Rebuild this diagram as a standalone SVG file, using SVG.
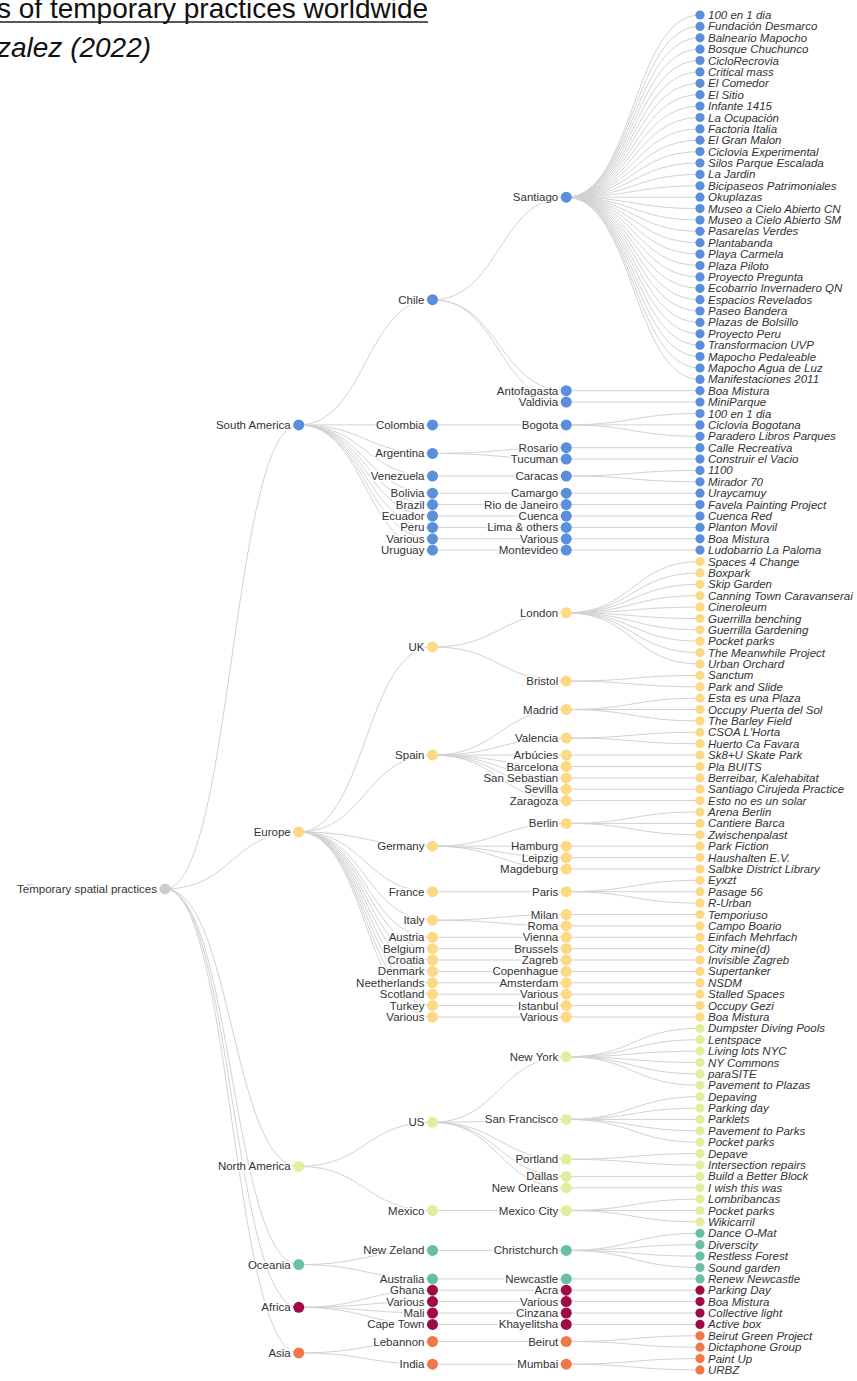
<svg xmlns="http://www.w3.org/2000/svg" width="857" height="1381" viewBox="0 0 857 1381">
<style>
.links path{fill:none;stroke:#d2d2d2;stroke-width:1}
.nd text{font-family:"Liberation Sans",Arial,Helvetica,sans-serif;font-size:11.5px;fill:#333;stroke:#fff;stroke-width:3;stroke-linejoin:round;paint-order:stroke}
.nd .e{text-anchor:end}
.lf text{font-style:italic}
.nd circle{r:5.5px}
.lf circle{r:4.6px}
.sa circle{fill:#5b8edb}
.eu circle{fill:#fdd985}
.na circle{fill:#e2ee9e}
.oc circle{fill:#69bfa6}
.af circle{fill:#9e0b45}
.as circle{fill:#f1774b}
.rt circle{fill:#cccccc}
.tt{font-family:"Liberation Sans",Arial,Helvetica,sans-serif;font-size:28px;fill:#111}
</style>
<rect width="857" height="1381" fill="#fff"/>
<g id="title">
<text class="tt" x="-3" y="18">s of temporary practices worldwide</text>
<line x1="0" y1="22" x2="428" y2="22" stroke="#222" stroke-width="1.5"/>
<text class="tt" x="-3" y="57" font-style="italic">zalez (2022)</text>
</g>
<g id="links" class="links">
<path d="M165,888.9C231.9,888.9 231.9,424.9 298.75,424.9"/>
<path d="M165,888.9C231.9,888.9 231.9,832 298.75,832"/>
<path d="M165,888.9C231.9,888.9 231.9,1166.4 298.75,1166.4"/>
<path d="M165,888.9C231.9,888.9 231.9,1264.6 298.75,1264.6"/>
<path d="M165,888.9C231.9,888.9 231.9,1307.3 298.75,1307.3"/>
<path d="M165,888.9C231.9,888.9 231.9,1352.9 298.75,1352.9"/>
<path d="M298.75,424.9C365.6,424.9 365.6,299.7 432.5,299.7"/>
<path d="M298.75,424.9C365.6,424.9 365.6,424.9 432.5,424.9"/>
<path d="M298.75,424.9C365.6,424.9 365.6,453.4 432.5,453.4"/>
<path d="M298.75,424.9C365.6,424.9 365.6,476.1 432.5,476.1"/>
<path d="M298.75,424.9C365.6,424.9 365.6,493.2 432.5,493.2"/>
<path d="M298.75,424.9C365.6,424.9 365.6,504.6 432.5,504.6"/>
<path d="M298.75,424.9C365.6,424.9 365.6,516 432.5,516"/>
<path d="M298.75,424.9C365.6,424.9 365.6,527.4 432.5,527.4"/>
<path d="M298.75,424.9C365.6,424.9 365.6,538.8 432.5,538.8"/>
<path d="M298.75,424.9C365.6,424.9 365.6,550.1 432.5,550.1"/>
<path d="M298.75,832C365.6,832 365.6,646.9 432.5,646.9"/>
<path d="M298.75,832C365.6,832 365.6,755.1 432.5,755.1"/>
<path d="M298.75,832C365.6,832 365.6,846.2 432.5,846.2"/>
<path d="M298.75,832C365.6,832 365.6,891.7 432.5,891.7"/>
<path d="M298.75,832C365.6,832 365.6,920.2 432.5,920.2"/>
<path d="M298.75,832C365.6,832 365.6,937.3 432.5,937.3"/>
<path d="M298.75,832C365.6,832 365.6,948.7 432.5,948.7"/>
<path d="M298.75,832C365.6,832 365.6,960 432.5,960"/>
<path d="M298.75,832C365.6,832 365.6,971.4 432.5,971.4"/>
<path d="M298.75,832C365.6,832 365.6,982.8 432.5,982.8"/>
<path d="M298.75,832C365.6,832 365.6,994.2 432.5,994.2"/>
<path d="M298.75,832C365.6,832 365.6,1005.6 432.5,1005.6"/>
<path d="M298.75,832C365.6,832 365.6,1017 432.5,1017"/>
<path d="M298.75,1166.4C365.6,1166.4 365.6,1122.3 432.5,1122.3"/>
<path d="M298.75,1166.4C365.6,1166.4 365.6,1210.5 432.5,1210.5"/>
<path d="M298.75,1264.6C365.6,1264.6 365.6,1250.4 432.5,1250.4"/>
<path d="M298.75,1264.6C365.6,1264.6 365.6,1278.9 432.5,1278.9"/>
<path d="M298.75,1307.3C365.6,1307.3 365.6,1290.2 432.5,1290.2"/>
<path d="M298.75,1307.3C365.6,1307.3 365.6,1301.6 432.5,1301.6"/>
<path d="M298.75,1307.3C365.6,1307.3 365.6,1313 432.5,1313"/>
<path d="M298.75,1307.3C365.6,1307.3 365.6,1324.4 432.5,1324.4"/>
<path d="M298.75,1352.9C365.6,1352.9 365.6,1341.5 432.5,1341.5"/>
<path d="M298.75,1352.9C365.6,1352.9 365.6,1364.2 432.5,1364.2"/>
<path d="M432.5,299.7C499.4,299.7 499.4,197.2 566.25,197.2"/>
<path d="M432.5,299.7C499.4,299.7 499.4,390.7 566.25,390.7"/>
<path d="M432.5,299.7C499.4,299.7 499.4,402.1 566.25,402.1"/>
<path d="M432.5,424.9H566.25"/>
<path d="M432.5,453.4C499.4,453.4 499.4,447.7 566.25,447.7"/>
<path d="M432.5,453.4C499.4,453.4 499.4,459.1 566.25,459.1"/>
<path d="M432.5,476.1H566.25"/>
<path d="M432.5,493.2H566.25"/>
<path d="M432.5,504.6H566.25"/>
<path d="M432.5,516H566.25"/>
<path d="M432.5,527.4H566.25"/>
<path d="M432.5,538.8H566.25"/>
<path d="M432.5,550.1H566.25"/>
<path d="M432.5,646.9C499.4,646.9 499.4,612.8 566.25,612.8"/>
<path d="M432.5,646.9C499.4,646.9 499.4,681.1 566.25,681.1"/>
<path d="M432.5,755.1C499.4,755.1 499.4,709.5 566.25,709.5"/>
<path d="M432.5,755.1C499.4,755.1 499.4,738 566.25,738"/>
<path d="M432.5,755.1H566.25"/>
<path d="M432.5,755.1C499.4,755.1 499.4,766.5 566.25,766.5"/>
<path d="M432.5,755.1C499.4,755.1 499.4,777.9 566.25,777.9"/>
<path d="M432.5,755.1C499.4,755.1 499.4,789.2 566.25,789.2"/>
<path d="M432.5,755.1C499.4,755.1 499.4,800.6 566.25,800.6"/>
<path d="M432.5,846.2C499.4,846.2 499.4,823.4 566.25,823.4"/>
<path d="M432.5,846.2H566.25"/>
<path d="M432.5,846.2C499.4,846.2 499.4,857.6 566.25,857.6"/>
<path d="M432.5,846.2C499.4,846.2 499.4,869 566.25,869"/>
<path d="M432.5,891.7H566.25"/>
<path d="M432.5,920.2C499.4,920.2 499.4,914.5 566.25,914.5"/>
<path d="M432.5,920.2C499.4,920.2 499.4,925.9 566.25,925.9"/>
<path d="M432.5,937.3H566.25"/>
<path d="M432.5,948.7H566.25"/>
<path d="M432.5,960H566.25"/>
<path d="M432.5,971.4H566.25"/>
<path d="M432.5,982.8H566.25"/>
<path d="M432.5,994.2H566.25"/>
<path d="M432.5,1005.6H566.25"/>
<path d="M432.5,1017H566.25"/>
<path d="M432.5,1122.3C499.4,1122.3 499.4,1056.8 566.25,1056.8"/>
<path d="M432.5,1122.3C499.4,1122.3 499.4,1119.4 566.25,1119.4"/>
<path d="M432.5,1122.3C499.4,1122.3 499.4,1159.3 566.25,1159.3"/>
<path d="M432.5,1122.3C499.4,1122.3 499.4,1176.4 566.25,1176.4"/>
<path d="M432.5,1122.3C499.4,1122.3 499.4,1187.8 566.25,1187.8"/>
<path d="M432.5,1210.5H566.25"/>
<path d="M432.5,1250.4H566.25"/>
<path d="M432.5,1278.9H566.25"/>
<path d="M432.5,1290.2H566.25"/>
<path d="M432.5,1301.6H566.25"/>
<path d="M432.5,1313H566.25"/>
<path d="M432.5,1324.4H566.25"/>
<path d="M432.5,1341.5H566.25"/>
<path d="M432.5,1364.2H566.25"/>
<path d="M566.25,197.2C633.1,197.2 633.1,15 700,15"/>
<path d="M566.25,197.2C633.1,197.2 633.1,26.4 700,26.4"/>
<path d="M566.25,197.2C633.1,197.2 633.1,37.8 700,37.8"/>
<path d="M566.25,197.2C633.1,197.2 633.1,49.2 700,49.2"/>
<path d="M566.25,197.2C633.1,197.2 633.1,60.5 700,60.5"/>
<path d="M566.25,197.2C633.1,197.2 633.1,71.9 700,71.9"/>
<path d="M566.25,197.2C633.1,197.2 633.1,83.3 700,83.3"/>
<path d="M566.25,197.2C633.1,197.2 633.1,94.7 700,94.7"/>
<path d="M566.25,197.2C633.1,197.2 633.1,106.1 700,106.1"/>
<path d="M566.25,197.2C633.1,197.2 633.1,117.5 700,117.5"/>
<path d="M566.25,197.2C633.1,197.2 633.1,128.9 700,128.9"/>
<path d="M566.25,197.2C633.1,197.2 633.1,140.2 700,140.2"/>
<path d="M566.25,197.2C633.1,197.2 633.1,151.6 700,151.6"/>
<path d="M566.25,197.2C633.1,197.2 633.1,163 700,163"/>
<path d="M566.25,197.2C633.1,197.2 633.1,174.4 700,174.4"/>
<path d="M566.25,197.2C633.1,197.2 633.1,185.8 700,185.8"/>
<path d="M566.25,197.2H700"/>
<path d="M566.25,197.2C633.1,197.2 633.1,208.6 700,208.6"/>
<path d="M566.25,197.2C633.1,197.2 633.1,220 700,220"/>
<path d="M566.25,197.2C633.1,197.2 633.1,231.3 700,231.3"/>
<path d="M566.25,197.2C633.1,197.2 633.1,242.7 700,242.7"/>
<path d="M566.25,197.2C633.1,197.2 633.1,254.1 700,254.1"/>
<path d="M566.25,197.2C633.1,197.2 633.1,265.5 700,265.5"/>
<path d="M566.25,197.2C633.1,197.2 633.1,276.9 700,276.9"/>
<path d="M566.25,197.2C633.1,197.2 633.1,288.3 700,288.3"/>
<path d="M566.25,197.2C633.1,197.2 633.1,299.7 700,299.7"/>
<path d="M566.25,197.2C633.1,197.2 633.1,311 700,311"/>
<path d="M566.25,197.2C633.1,197.2 633.1,322.4 700,322.4"/>
<path d="M566.25,197.2C633.1,197.2 633.1,333.8 700,333.8"/>
<path d="M566.25,197.2C633.1,197.2 633.1,345.2 700,345.2"/>
<path d="M566.25,197.2C633.1,197.2 633.1,356.6 700,356.6"/>
<path d="M566.25,197.2C633.1,197.2 633.1,368 700,368"/>
<path d="M566.25,197.2C633.1,197.2 633.1,379.4 700,379.4"/>
<path d="M566.25,390.7H700"/>
<path d="M566.25,402.1H700"/>
<path d="M566.25,424.9C633.1,424.9 633.1,413.5 700,413.5"/>
<path d="M566.25,424.9H700"/>
<path d="M566.25,424.9C633.1,424.9 633.1,436.3 700,436.3"/>
<path d="M566.25,447.7H700"/>
<path d="M566.25,459.1H700"/>
<path d="M566.25,476.1C633.1,476.1 633.1,470.4 700,470.4"/>
<path d="M566.25,476.1C633.1,476.1 633.1,481.8 700,481.8"/>
<path d="M566.25,493.2H700"/>
<path d="M566.25,504.6H700"/>
<path d="M566.25,516H700"/>
<path d="M566.25,527.4H700"/>
<path d="M566.25,538.8H700"/>
<path d="M566.25,550.1H700"/>
<path d="M566.25,612.8C633.1,612.8 633.1,561.5 700,561.5"/>
<path d="M566.25,612.8C633.1,612.8 633.1,572.9 700,572.9"/>
<path d="M566.25,612.8C633.1,612.8 633.1,584.3 700,584.3"/>
<path d="M566.25,612.8C633.1,612.8 633.1,595.7 700,595.7"/>
<path d="M566.25,612.8C633.1,612.8 633.1,607.1 700,607.1"/>
<path d="M566.25,612.8C633.1,612.8 633.1,618.5 700,618.5"/>
<path d="M566.25,612.8C633.1,612.8 633.1,629.8 700,629.8"/>
<path d="M566.25,612.8C633.1,612.8 633.1,641.2 700,641.2"/>
<path d="M566.25,612.8C633.1,612.8 633.1,652.6 700,652.6"/>
<path d="M566.25,612.8C633.1,612.8 633.1,664 700,664"/>
<path d="M566.25,681.1C633.1,681.1 633.1,675.4 700,675.4"/>
<path d="M566.25,681.1C633.1,681.1 633.1,686.8 700,686.8"/>
<path d="M566.25,709.5C633.1,709.5 633.1,698.2 700,698.2"/>
<path d="M566.25,709.5H700"/>
<path d="M566.25,709.5C633.1,709.5 633.1,720.9 700,720.9"/>
<path d="M566.25,738C633.1,738 633.1,732.3 700,732.3"/>
<path d="M566.25,738C633.1,738 633.1,743.7 700,743.7"/>
<path d="M566.25,755.1H700"/>
<path d="M566.25,766.5H700"/>
<path d="M566.25,777.9H700"/>
<path d="M566.25,789.2H700"/>
<path d="M566.25,800.6H700"/>
<path d="M566.25,823.4C633.1,823.4 633.1,812 700,812"/>
<path d="M566.25,823.4H700"/>
<path d="M566.25,823.4C633.1,823.4 633.1,834.8 700,834.8"/>
<path d="M566.25,846.2H700"/>
<path d="M566.25,857.6H700"/>
<path d="M566.25,869H700"/>
<path d="M566.25,891.7C633.1,891.7 633.1,880.3 700,880.3"/>
<path d="M566.25,891.7H700"/>
<path d="M566.25,891.7C633.1,891.7 633.1,903.1 700,903.1"/>
<path d="M566.25,914.5H700"/>
<path d="M566.25,925.9H700"/>
<path d="M566.25,937.3H700"/>
<path d="M566.25,948.7H700"/>
<path d="M566.25,960H700"/>
<path d="M566.25,971.4H700"/>
<path d="M566.25,982.8H700"/>
<path d="M566.25,994.2H700"/>
<path d="M566.25,1005.6H700"/>
<path d="M566.25,1017H700"/>
<path d="M566.25,1056.8C633.1,1056.8 633.1,1028.4 700,1028.4"/>
<path d="M566.25,1056.8C633.1,1056.8 633.1,1039.7 700,1039.7"/>
<path d="M566.25,1056.8C633.1,1056.8 633.1,1051.1 700,1051.1"/>
<path d="M566.25,1056.8C633.1,1056.8 633.1,1062.5 700,1062.5"/>
<path d="M566.25,1056.8C633.1,1056.8 633.1,1073.9 700,1073.9"/>
<path d="M566.25,1056.8C633.1,1056.8 633.1,1085.3 700,1085.3"/>
<path d="M566.25,1119.4C633.1,1119.4 633.1,1096.7 700,1096.7"/>
<path d="M566.25,1119.4C633.1,1119.4 633.1,1108.1 700,1108.1"/>
<path d="M566.25,1119.4H700"/>
<path d="M566.25,1119.4C633.1,1119.4 633.1,1130.8 700,1130.8"/>
<path d="M566.25,1119.4C633.1,1119.4 633.1,1142.2 700,1142.2"/>
<path d="M566.25,1159.3C633.1,1159.3 633.1,1153.6 700,1153.6"/>
<path d="M566.25,1159.3C633.1,1159.3 633.1,1165 700,1165"/>
<path d="M566.25,1176.4H700"/>
<path d="M566.25,1187.8H700"/>
<path d="M566.25,1210.5C633.1,1210.5 633.1,1199.1 700,1199.1"/>
<path d="M566.25,1210.5H700"/>
<path d="M566.25,1210.5C633.1,1210.5 633.1,1221.9 700,1221.9"/>
<path d="M566.25,1250.4C633.1,1250.4 633.1,1233.3 700,1233.3"/>
<path d="M566.25,1250.4C633.1,1250.4 633.1,1244.7 700,1244.7"/>
<path d="M566.25,1250.4C633.1,1250.4 633.1,1256.1 700,1256.1"/>
<path d="M566.25,1250.4C633.1,1250.4 633.1,1267.5 700,1267.5"/>
<path d="M566.25,1278.9H700"/>
<path d="M566.25,1290.2H700"/>
<path d="M566.25,1301.6H700"/>
<path d="M566.25,1313H700"/>
<path d="M566.25,1324.4H700"/>
<path d="M566.25,1341.5C633.1,1341.5 633.1,1335.8 700,1335.8"/>
<path d="M566.25,1341.5C633.1,1341.5 633.1,1347.2 700,1347.2"/>
<path d="M566.25,1364.2C633.1,1364.2 633.1,1358.6 700,1358.6"/>
<path d="M566.25,1364.2C633.1,1364.2 633.1,1369.9 700,1369.9"/>
</g>
<g id="nodes">
<circle id="root-ghost" cx="30" cy="889" r="5.5" fill="#d9d9d9"/>
<g id="n-root" class="nd rt" transform="translate(165,888.9)"><circle/><text class="e" x="-8" dy=".35em">Temporary spatial practices</text></g>
<g id="n-south-america" class="nd sa" transform="translate(298.75,424.9)"><circle/><text class="e" x="-8" dy=".35em">South America</text></g>
<g id="n-europe" class="nd eu" transform="translate(298.75,832)"><circle/><text class="e" x="-8" dy=".35em">Europe</text></g>
<g id="n-north-america" class="nd na" transform="translate(298.75,1166.4)"><circle/><text class="e" x="-8" dy=".35em">North America</text></g>
<g id="n-oceania" class="nd oc" transform="translate(298.75,1264.6)"><circle/><text class="e" x="-8" dy=".35em">Oceania</text></g>
<g id="n-africa" class="nd af" transform="translate(298.75,1307.3)"><circle/><text class="e" x="-8" dy=".35em">Africa</text></g>
<g id="n-asia" class="nd as" transform="translate(298.75,1352.9)"><circle/><text class="e" x="-8" dy=".35em">Asia</text></g>
<g id="c-chile" class="nd sa" transform="translate(432.5,299.7)"><circle/><text class="e" x="-8" dy=".35em">Chile</text></g>
<g id="c-colombia" class="nd sa" transform="translate(432.5,424.9)"><circle/><text class="e" x="-8" dy=".35em">Colombia</text></g>
<g id="c-argentina" class="nd sa" transform="translate(432.5,453.4)"><circle/><text class="e" x="-8" dy=".35em">Argentina</text></g>
<g id="c-venezuela" class="nd sa" transform="translate(432.5,476.1)"><circle/><text class="e" x="-8" dy=".35em">Venezuela</text></g>
<g id="c-bolivia" class="nd sa" transform="translate(432.5,493.2)"><circle/><text class="e" x="-8" dy=".35em">Bolivia</text></g>
<g id="c-brazil" class="nd sa" transform="translate(432.5,504.6)"><circle/><text class="e" x="-8" dy=".35em">Brazil</text></g>
<g id="c-ecuador" class="nd sa" transform="translate(432.5,516)"><circle/><text class="e" x="-8" dy=".35em">Ecuador</text></g>
<g id="c-peru" class="nd sa" transform="translate(432.5,527.4)"><circle/><text class="e" x="-8" dy=".35em">Peru</text></g>
<g id="c-various-sa" class="nd sa" transform="translate(432.5,538.8)"><circle/><text class="e" x="-8" dy=".35em">Various</text></g>
<g id="c-uruguay" class="nd sa" transform="translate(432.5,550.1)"><circle/><text class="e" x="-8" dy=".35em">Uruguay</text></g>
<g id="c-uk" class="nd eu" transform="translate(432.5,646.9)"><circle/><text class="e" x="-8" dy=".35em">UK</text></g>
<g id="c-spain" class="nd eu" transform="translate(432.5,755.1)"><circle/><text class="e" x="-8" dy=".35em">Spain</text></g>
<g id="c-germany" class="nd eu" transform="translate(432.5,846.2)"><circle/><text class="e" x="-8" dy=".35em">Germany</text></g>
<g id="c-france" class="nd eu" transform="translate(432.5,891.7)"><circle/><text class="e" x="-8" dy=".35em">France</text></g>
<g id="c-italy" class="nd eu" transform="translate(432.5,920.2)"><circle/><text class="e" x="-8" dy=".35em">Italy</text></g>
<g id="c-austria" class="nd eu" transform="translate(432.5,937.3)"><circle/><text class="e" x="-8" dy=".35em">Austria</text></g>
<g id="c-belgium" class="nd eu" transform="translate(432.5,948.7)"><circle/><text class="e" x="-8" dy=".35em">Belgium</text></g>
<g id="c-croatia" class="nd eu" transform="translate(432.5,960)"><circle/><text class="e" x="-8" dy=".35em">Croatia</text></g>
<g id="c-denmark" class="nd eu" transform="translate(432.5,971.4)"><circle/><text class="e" x="-8" dy=".35em">Denmark</text></g>
<g id="c-neetherlands" class="nd eu" transform="translate(432.5,982.8)"><circle/><text class="e" x="-8" dy=".35em">Neetherlands</text></g>
<g id="c-scotland" class="nd eu" transform="translate(432.5,994.2)"><circle/><text class="e" x="-8" dy=".35em">Scotland</text></g>
<g id="c-turkey" class="nd eu" transform="translate(432.5,1005.6)"><circle/><text class="e" x="-8" dy=".35em">Turkey</text></g>
<g id="c-various-eu" class="nd eu" transform="translate(432.5,1017)"><circle/><text class="e" x="-8" dy=".35em">Various</text></g>
<g id="c-us" class="nd na" transform="translate(432.5,1122.3)"><circle/><text class="e" x="-8" dy=".35em">US</text></g>
<g id="c-mexico" class="nd na" transform="translate(432.5,1210.5)"><circle/><text class="e" x="-8" dy=".35em">Mexico</text></g>
<g id="c-new-zeland" class="nd oc" transform="translate(432.5,1250.4)"><circle/><text class="e" x="-8" dy=".35em">New Zeland</text></g>
<g id="c-australia" class="nd oc" transform="translate(432.5,1278.9)"><circle/><text class="e" x="-8" dy=".35em">Australia</text></g>
<g id="c-ghana" class="nd af" transform="translate(432.5,1290.2)"><circle/><text class="e" x="-8" dy=".35em">Ghana</text></g>
<g id="c-various-af" class="nd af" transform="translate(432.5,1301.6)"><circle/><text class="e" x="-8" dy=".35em">Various</text></g>
<g id="c-mali" class="nd af" transform="translate(432.5,1313)"><circle/><text class="e" x="-8" dy=".35em">Mali</text></g>
<g id="c-cape-town" class="nd af" transform="translate(432.5,1324.4)"><circle/><text class="e" x="-8" dy=".35em">Cape Town</text></g>
<g id="c-lebannon" class="nd as" transform="translate(432.5,1341.5)"><circle/><text class="e" x="-8" dy=".35em">Lebannon</text></g>
<g id="c-india" class="nd as" transform="translate(432.5,1364.2)"><circle/><text class="e" x="-8" dy=".35em">India</text></g>
<g id="t-santiago" class="nd sa" transform="translate(566.25,197.2)"><circle/><text class="e" x="-8" dy=".35em">Santiago</text></g>
<g id="t-antofagasta" class="nd sa" transform="translate(566.25,390.7)"><circle/><text class="e" x="-8" dy=".35em">Antofagasta</text></g>
<g id="t-valdivia" class="nd sa" transform="translate(566.25,402.1)"><circle/><text class="e" x="-8" dy=".35em">Valdivia</text></g>
<g id="t-bogota" class="nd sa" transform="translate(566.25,424.9)"><circle/><text class="e" x="-8" dy=".35em">Bogota</text></g>
<g id="t-rosario" class="nd sa" transform="translate(566.25,447.7)"><circle/><text class="e" x="-8" dy=".35em">Rosario</text></g>
<g id="t-tucuman" class="nd sa" transform="translate(566.25,459.1)"><circle/><text class="e" x="-8" dy=".35em">Tucuman</text></g>
<g id="t-caracas" class="nd sa" transform="translate(566.25,476.1)"><circle/><text class="e" x="-8" dy=".35em">Caracas</text></g>
<g id="t-camargo" class="nd sa" transform="translate(566.25,493.2)"><circle/><text class="e" x="-8" dy=".35em">Camargo</text></g>
<g id="t-rio" class="nd sa" transform="translate(566.25,504.6)"><circle/><text class="e" x="-8" dy=".35em">Rio de Janeiro</text></g>
<g id="t-cuenca" class="nd sa" transform="translate(566.25,516)"><circle/><text class="e" x="-8" dy=".35em">Cuenca</text></g>
<g id="t-lima" class="nd sa" transform="translate(566.25,527.4)"><circle/><text class="e" x="-8" dy=".35em">Lima &amp; others</text></g>
<g id="t-various-sa" class="nd sa" transform="translate(566.25,538.8)"><circle/><text class="e" x="-8" dy=".35em">Various</text></g>
<g id="t-montevideo" class="nd sa" transform="translate(566.25,550.1)"><circle/><text class="e" x="-8" dy=".35em">Montevideo</text></g>
<g id="t-london" class="nd eu" transform="translate(566.25,612.8)"><circle/><text class="e" x="-8" dy=".35em">London</text></g>
<g id="t-bristol" class="nd eu" transform="translate(566.25,681.1)"><circle/><text class="e" x="-8" dy=".35em">Bristol</text></g>
<g id="t-madrid" class="nd eu" transform="translate(566.25,709.5)"><circle/><text class="e" x="-8" dy=".35em">Madrid</text></g>
<g id="t-valencia" class="nd eu" transform="translate(566.25,738)"><circle/><text class="e" x="-8" dy=".35em">Valencia</text></g>
<g id="t-arbucies" class="nd eu" transform="translate(566.25,755.1)"><circle/><text class="e" x="-8" dy=".35em">Arbúcies</text></g>
<g id="t-barcelona" class="nd eu" transform="translate(566.25,766.5)"><circle/><text class="e" x="-8" dy=".35em">Barcelona</text></g>
<g id="t-san-sebastian" class="nd eu" transform="translate(566.25,777.9)"><circle/><text class="e" x="-8" dy=".35em">San Sebastian</text></g>
<g id="t-sevilla" class="nd eu" transform="translate(566.25,789.2)"><circle/><text class="e" x="-8" dy=".35em">Sevilla</text></g>
<g id="t-zaragoza" class="nd eu" transform="translate(566.25,800.6)"><circle/><text class="e" x="-8" dy=".35em">Zaragoza</text></g>
<g id="t-berlin" class="nd eu" transform="translate(566.25,823.4)"><circle/><text class="e" x="-8" dy=".35em">Berlin</text></g>
<g id="t-hamburg" class="nd eu" transform="translate(566.25,846.2)"><circle/><text class="e" x="-8" dy=".35em">Hamburg</text></g>
<g id="t-leipzig" class="nd eu" transform="translate(566.25,857.6)"><circle/><text class="e" x="-8" dy=".35em">Leipzig</text></g>
<g id="t-magdeburg" class="nd eu" transform="translate(566.25,869)"><circle/><text class="e" x="-8" dy=".35em">Magdeburg</text></g>
<g id="t-paris" class="nd eu" transform="translate(566.25,891.7)"><circle/><text class="e" x="-8" dy=".35em">Paris</text></g>
<g id="t-milan" class="nd eu" transform="translate(566.25,914.5)"><circle/><text class="e" x="-8" dy=".35em">Milan</text></g>
<g id="t-roma" class="nd eu" transform="translate(566.25,925.9)"><circle/><text class="e" x="-8" dy=".35em">Roma</text></g>
<g id="t-vienna" class="nd eu" transform="translate(566.25,937.3)"><circle/><text class="e" x="-8" dy=".35em">Vienna</text></g>
<g id="t-brussels" class="nd eu" transform="translate(566.25,948.7)"><circle/><text class="e" x="-8" dy=".35em">Brussels</text></g>
<g id="t-zagreb" class="nd eu" transform="translate(566.25,960)"><circle/><text class="e" x="-8" dy=".35em">Zagreb</text></g>
<g id="t-copenhague" class="nd eu" transform="translate(566.25,971.4)"><circle/><text class="e" x="-8" dy=".35em">Copenhague</text></g>
<g id="t-amsterdam" class="nd eu" transform="translate(566.25,982.8)"><circle/><text class="e" x="-8" dy=".35em">Amsterdam</text></g>
<g id="t-various-sc" class="nd eu" transform="translate(566.25,994.2)"><circle/><text class="e" x="-8" dy=".35em">Various</text></g>
<g id="t-istanbul" class="nd eu" transform="translate(566.25,1005.6)"><circle/><text class="e" x="-8" dy=".35em">Istanbul</text></g>
<g id="t-various-eu" class="nd eu" transform="translate(566.25,1017)"><circle/><text class="e" x="-8" dy=".35em">Various</text></g>
<g id="t-new-york" class="nd na" transform="translate(566.25,1056.8)"><circle/><text class="e" x="-8" dy=".35em">New York</text></g>
<g id="t-san-francisco" class="nd na" transform="translate(566.25,1119.4)"><circle/><text class="e" x="-8" dy=".35em">San Francisco</text></g>
<g id="t-portland" class="nd na" transform="translate(566.25,1159.3)"><circle/><text class="e" x="-8" dy=".35em">Portland</text></g>
<g id="t-dallas" class="nd na" transform="translate(566.25,1176.4)"><circle/><text class="e" x="-8" dy=".35em">Dallas</text></g>
<g id="t-new-orleans" class="nd na" transform="translate(566.25,1187.8)"><circle/><text class="e" x="-8" dy=".35em">New Orleans</text></g>
<g id="t-mexico-city" class="nd na" transform="translate(566.25,1210.5)"><circle/><text class="e" x="-8" dy=".35em">Mexico City</text></g>
<g id="t-christchurch" class="nd oc" transform="translate(566.25,1250.4)"><circle/><text class="e" x="-8" dy=".35em">Christchurch</text></g>
<g id="t-newcastle" class="nd oc" transform="translate(566.25,1278.9)"><circle/><text class="e" x="-8" dy=".35em">Newcastle</text></g>
<g id="t-acra" class="nd af" transform="translate(566.25,1290.2)"><circle/><text class="e" x="-8" dy=".35em">Acra</text></g>
<g id="t-various-af" class="nd af" transform="translate(566.25,1301.6)"><circle/><text class="e" x="-8" dy=".35em">Various</text></g>
<g id="t-cinzana" class="nd af" transform="translate(566.25,1313)"><circle/><text class="e" x="-8" dy=".35em">Cinzana</text></g>
<g id="t-khayelitsha" class="nd af" transform="translate(566.25,1324.4)"><circle/><text class="e" x="-8" dy=".35em">Khayelitsha</text></g>
<g id="t-beirut" class="nd as" transform="translate(566.25,1341.5)"><circle/><text class="e" x="-8" dy=".35em">Beirut</text></g>
<g id="t-mumbai" class="nd as" transform="translate(566.25,1364.2)"><circle/><text class="e" x="-8" dy=".35em">Mumbai</text></g>
<g id="l1" class="nd lf sa" transform="translate(700,15)"><circle/><text x="8" dy=".35em">100 en 1 dia</text></g>
<g id="l2" class="nd lf sa" transform="translate(700,26.4)"><circle/><text x="8" dy=".35em">Fundación Desmarco</text></g>
<g id="l3" class="nd lf sa" transform="translate(700,37.8)"><circle/><text x="8" dy=".35em">Balneario Mapocho</text></g>
<g id="l4" class="nd lf sa" transform="translate(700,49.2)"><circle/><text x="8" dy=".35em">Bosque Chuchunco</text></g>
<g id="l5" class="nd lf sa" transform="translate(700,60.5)"><circle/><text x="8" dy=".35em">CicloRecrovia</text></g>
<g id="l6" class="nd lf sa" transform="translate(700,71.9)"><circle/><text x="8" dy=".35em">Critical mass</text></g>
<g id="l7" class="nd lf sa" transform="translate(700,83.3)"><circle/><text x="8" dy=".35em">El Comedor</text></g>
<g id="l8" class="nd lf sa" transform="translate(700,94.7)"><circle/><text x="8" dy=".35em">El Sitio</text></g>
<g id="l9" class="nd lf sa" transform="translate(700,106.1)"><circle/><text x="8" dy=".35em">Infante 1415</text></g>
<g id="l10" class="nd lf sa" transform="translate(700,117.5)"><circle/><text x="8" dy=".35em">La Ocupación</text></g>
<g id="l11" class="nd lf sa" transform="translate(700,128.9)"><circle/><text x="8" dy=".35em">Factoria Italia</text></g>
<g id="l12" class="nd lf sa" transform="translate(700,140.2)"><circle/><text x="8" dy=".35em">El Gran Malon</text></g>
<g id="l13" class="nd lf sa" transform="translate(700,151.6)"><circle/><text x="8" dy=".35em">Ciclovia Experimental</text></g>
<g id="l14" class="nd lf sa" transform="translate(700,163)"><circle/><text x="8" dy=".35em">Silos Parque Escalada</text></g>
<g id="l15" class="nd lf sa" transform="translate(700,174.4)"><circle/><text x="8" dy=".35em">La Jardin</text></g>
<g id="l16" class="nd lf sa" transform="translate(700,185.8)"><circle/><text x="8" dy=".35em">Bicipaseos Patrimoniales</text></g>
<g id="l17" class="nd lf sa" transform="translate(700,197.2)"><circle/><text x="8" dy=".35em">Okuplazas</text></g>
<g id="l18" class="nd lf sa" transform="translate(700,208.6)"><circle/><text x="8" dy=".35em">Museo a Cielo Abierto CN</text></g>
<g id="l19" class="nd lf sa" transform="translate(700,220)"><circle/><text x="8" dy=".35em">Museo a Cielo Abierto SM</text></g>
<g id="l20" class="nd lf sa" transform="translate(700,231.3)"><circle/><text x="8" dy=".35em">Pasarelas Verdes</text></g>
<g id="l21" class="nd lf sa" transform="translate(700,242.7)"><circle/><text x="8" dy=".35em">Plantabanda</text></g>
<g id="l22" class="nd lf sa" transform="translate(700,254.1)"><circle/><text x="8" dy=".35em">Playa Carmela</text></g>
<g id="l23" class="nd lf sa" transform="translate(700,265.5)"><circle/><text x="8" dy=".35em">Plaza Piloto</text></g>
<g id="l24" class="nd lf sa" transform="translate(700,276.9)"><circle/><text x="8" dy=".35em">Proyecto Pregunta</text></g>
<g id="l25" class="nd lf sa" transform="translate(700,288.3)"><circle/><text x="8" dy=".35em">Ecobarrio Invernadero QN</text></g>
<g id="l26" class="nd lf sa" transform="translate(700,299.7)"><circle/><text x="8" dy=".35em">Espacios Revelados</text></g>
<g id="l27" class="nd lf sa" transform="translate(700,311)"><circle/><text x="8" dy=".35em">Paseo Bandera</text></g>
<g id="l28" class="nd lf sa" transform="translate(700,322.4)"><circle/><text x="8" dy=".35em">Plazas de Bolsillo</text></g>
<g id="l29" class="nd lf sa" transform="translate(700,333.8)"><circle/><text x="8" dy=".35em">Proyecto Peru</text></g>
<g id="l30" class="nd lf sa" transform="translate(700,345.2)"><circle/><text x="8" dy=".35em">Transformacion UVP</text></g>
<g id="l31" class="nd lf sa" transform="translate(700,356.6)"><circle/><text x="8" dy=".35em">Mapocho Pedaleable</text></g>
<g id="l32" class="nd lf sa" transform="translate(700,368)"><circle/><text x="8" dy=".35em">Mapocho Agua de Luz</text></g>
<g id="l33" class="nd lf sa" transform="translate(700,379.4)"><circle/><text x="8" dy=".35em">Manifestaciones 2011</text></g>
<g id="l34" class="nd lf sa" transform="translate(700,390.7)"><circle/><text x="8" dy=".35em">Boa Mistura</text></g>
<g id="l35" class="nd lf sa" transform="translate(700,402.1)"><circle/><text x="8" dy=".35em">MiniParque</text></g>
<g id="l36" class="nd lf sa" transform="translate(700,413.5)"><circle/><text x="8" dy=".35em">100 en 1 dia</text></g>
<g id="l37" class="nd lf sa" transform="translate(700,424.9)"><circle/><text x="8" dy=".35em">Ciclovia Bogotana</text></g>
<g id="l38" class="nd lf sa" transform="translate(700,436.3)"><circle/><text x="8" dy=".35em">Paradero Libros Parques</text></g>
<g id="l39" class="nd lf sa" transform="translate(700,447.7)"><circle/><text x="8" dy=".35em">Calle Recreativa</text></g>
<g id="l40" class="nd lf sa" transform="translate(700,459.1)"><circle/><text x="8" dy=".35em">Construir el Vacio</text></g>
<g id="l41" class="nd lf sa" transform="translate(700,470.4)"><circle/><text x="8" dy=".35em">1100</text></g>
<g id="l42" class="nd lf sa" transform="translate(700,481.8)"><circle/><text x="8" dy=".35em">Mirador 70</text></g>
<g id="l43" class="nd lf sa" transform="translate(700,493.2)"><circle/><text x="8" dy=".35em">Uraycamuy</text></g>
<g id="l44" class="nd lf sa" transform="translate(700,504.6)"><circle/><text x="8" dy=".35em">Favela Painting Project</text></g>
<g id="l45" class="nd lf sa" transform="translate(700,516)"><circle/><text x="8" dy=".35em">Cuenca Red</text></g>
<g id="l46" class="nd lf sa" transform="translate(700,527.4)"><circle/><text x="8" dy=".35em">Planton Movil</text></g>
<g id="l47" class="nd lf sa" transform="translate(700,538.8)"><circle/><text x="8" dy=".35em">Boa Mistura</text></g>
<g id="l48" class="nd lf sa" transform="translate(700,550.1)"><circle/><text x="8" dy=".35em">Ludobarrio La Paloma</text></g>
<g id="l49" class="nd lf eu" transform="translate(700,561.5)"><circle/><text x="8" dy=".35em">Spaces 4 Change</text></g>
<g id="l50" class="nd lf eu" transform="translate(700,572.9)"><circle/><text x="8" dy=".35em">Boxpark</text></g>
<g id="l51" class="nd lf eu" transform="translate(700,584.3)"><circle/><text x="8" dy=".35em">Skip Garden</text></g>
<g id="l52" class="nd lf eu" transform="translate(700,595.7)"><circle/><text x="8" dy=".35em">Canning Town Caravanserai</text></g>
<g id="l53" class="nd lf eu" transform="translate(700,607.1)"><circle/><text x="8" dy=".35em">Cineroleum</text></g>
<g id="l54" class="nd lf eu" transform="translate(700,618.5)"><circle/><text x="8" dy=".35em">Guerrilla benching</text></g>
<g id="l55" class="nd lf eu" transform="translate(700,629.8)"><circle/><text x="8" dy=".35em">Guerrilla Gardening</text></g>
<g id="l56" class="nd lf eu" transform="translate(700,641.2)"><circle/><text x="8" dy=".35em">Pocket parks</text></g>
<g id="l57" class="nd lf eu" transform="translate(700,652.6)"><circle/><text x="8" dy=".35em">The Meanwhile Project</text></g>
<g id="l58" class="nd lf eu" transform="translate(700,664)"><circle/><text x="8" dy=".35em">Urban Orchard</text></g>
<g id="l59" class="nd lf eu" transform="translate(700,675.4)"><circle/><text x="8" dy=".35em">Sanctum</text></g>
<g id="l60" class="nd lf eu" transform="translate(700,686.8)"><circle/><text x="8" dy=".35em">Park and Slide</text></g>
<g id="l61" class="nd lf eu" transform="translate(700,698.2)"><circle/><text x="8" dy=".35em">Esta es una Plaza</text></g>
<g id="l62" class="nd lf eu" transform="translate(700,709.5)"><circle/><text x="8" dy=".35em">Occupy Puerta del Sol</text></g>
<g id="l63" class="nd lf eu" transform="translate(700,720.9)"><circle/><text x="8" dy=".35em">The Barley Field</text></g>
<g id="l64" class="nd lf eu" transform="translate(700,732.3)"><circle/><text x="8" dy=".35em">CSOA L'Horta</text></g>
<g id="l65" class="nd lf eu" transform="translate(700,743.7)"><circle/><text x="8" dy=".35em">Huerto Ca Favara</text></g>
<g id="l66" class="nd lf eu" transform="translate(700,755.1)"><circle/><text x="8" dy=".35em">Sk8+U Skate Park</text></g>
<g id="l67" class="nd lf eu" transform="translate(700,766.5)"><circle/><text x="8" dy=".35em">Pla BUITS</text></g>
<g id="l68" class="nd lf eu" transform="translate(700,777.9)"><circle/><text x="8" dy=".35em">Berreibar, Kalehabitat</text></g>
<g id="l69" class="nd lf eu" transform="translate(700,789.2)"><circle/><text x="8" dy=".35em">Santiago Cirujeda Practice</text></g>
<g id="l70" class="nd lf eu" transform="translate(700,800.6)"><circle/><text x="8" dy=".35em">Esto no es un solar</text></g>
<g id="l71" class="nd lf eu" transform="translate(700,812)"><circle/><text x="8" dy=".35em">Arena Berlin</text></g>
<g id="l72" class="nd lf eu" transform="translate(700,823.4)"><circle/><text x="8" dy=".35em">Cantiere Barca</text></g>
<g id="l73" class="nd lf eu" transform="translate(700,834.8)"><circle/><text x="8" dy=".35em">Zwischenpalast</text></g>
<g id="l74" class="nd lf eu" transform="translate(700,846.2)"><circle/><text x="8" dy=".35em">Park Fiction</text></g>
<g id="l75" class="nd lf eu" transform="translate(700,857.6)"><circle/><text x="8" dy=".35em">Haushalten E.V.</text></g>
<g id="l76" class="nd lf eu" transform="translate(700,869)"><circle/><text x="8" dy=".35em">Salbke District Library</text></g>
<g id="l77" class="nd lf eu" transform="translate(700,880.3)"><circle/><text x="8" dy=".35em">Eyxzt</text></g>
<g id="l78" class="nd lf eu" transform="translate(700,891.7)"><circle/><text x="8" dy=".35em">Pasage 56</text></g>
<g id="l79" class="nd lf eu" transform="translate(700,903.1)"><circle/><text x="8" dy=".35em">R-Urban</text></g>
<g id="l80" class="nd lf eu" transform="translate(700,914.5)"><circle/><text x="8" dy=".35em">Temporiuso</text></g>
<g id="l81" class="nd lf eu" transform="translate(700,925.9)"><circle/><text x="8" dy=".35em">Campo Boario</text></g>
<g id="l82" class="nd lf eu" transform="translate(700,937.3)"><circle/><text x="8" dy=".35em">Einfach Mehrfach</text></g>
<g id="l83" class="nd lf eu" transform="translate(700,948.7)"><circle/><text x="8" dy=".35em">City mine(d)</text></g>
<g id="l84" class="nd lf eu" transform="translate(700,960)"><circle/><text x="8" dy=".35em">Invisible Zagreb</text></g>
<g id="l85" class="nd lf eu" transform="translate(700,971.4)"><circle/><text x="8" dy=".35em">Supertanker</text></g>
<g id="l86" class="nd lf eu" transform="translate(700,982.8)"><circle/><text x="8" dy=".35em">NSDM</text></g>
<g id="l87" class="nd lf eu" transform="translate(700,994.2)"><circle/><text x="8" dy=".35em">Stalled Spaces</text></g>
<g id="l88" class="nd lf eu" transform="translate(700,1005.6)"><circle/><text x="8" dy=".35em">Occupy Gezi</text></g>
<g id="l89" class="nd lf eu" transform="translate(700,1017)"><circle/><text x="8" dy=".35em">Boa Mistura</text></g>
<g id="l90" class="nd lf na" transform="translate(700,1028.4)"><circle/><text x="8" dy=".35em">Dumpster Diving Pools</text></g>
<g id="l91" class="nd lf na" transform="translate(700,1039.7)"><circle/><text x="8" dy=".35em">Lentspace</text></g>
<g id="l92" class="nd lf na" transform="translate(700,1051.1)"><circle/><text x="8" dy=".35em">Living lots NYC</text></g>
<g id="l93" class="nd lf na" transform="translate(700,1062.5)"><circle/><text x="8" dy=".35em">NY Commons</text></g>
<g id="l94" class="nd lf na" transform="translate(700,1073.9)"><circle/><text x="8" dy=".35em">paraSITE</text></g>
<g id="l95" class="nd lf na" transform="translate(700,1085.3)"><circle/><text x="8" dy=".35em">Pavement to Plazas</text></g>
<g id="l96" class="nd lf na" transform="translate(700,1096.7)"><circle/><text x="8" dy=".35em">Depaving</text></g>
<g id="l97" class="nd lf na" transform="translate(700,1108.1)"><circle/><text x="8" dy=".35em">Parking day</text></g>
<g id="l98" class="nd lf na" transform="translate(700,1119.4)"><circle/><text x="8" dy=".35em">Parklets</text></g>
<g id="l99" class="nd lf na" transform="translate(700,1130.8)"><circle/><text x="8" dy=".35em">Pavement to Parks</text></g>
<g id="l100" class="nd lf na" transform="translate(700,1142.2)"><circle/><text x="8" dy=".35em">Pocket parks</text></g>
<g id="l101" class="nd lf na" transform="translate(700,1153.6)"><circle/><text x="8" dy=".35em">Depave</text></g>
<g id="l102" class="nd lf na" transform="translate(700,1165)"><circle/><text x="8" dy=".35em">Intersection repairs</text></g>
<g id="l103" class="nd lf na" transform="translate(700,1176.4)"><circle/><text x="8" dy=".35em">Build a Better Block</text></g>
<g id="l104" class="nd lf na" transform="translate(700,1187.8)"><circle/><text x="8" dy=".35em">I wish this was</text></g>
<g id="l105" class="nd lf na" transform="translate(700,1199.1)"><circle/><text x="8" dy=".35em">Lombribancas</text></g>
<g id="l106" class="nd lf na" transform="translate(700,1210.5)"><circle/><text x="8" dy=".35em">Pocket parks</text></g>
<g id="l107" class="nd lf na" transform="translate(700,1221.9)"><circle/><text x="8" dy=".35em">Wikicarril</text></g>
<g id="l108" class="nd lf oc" transform="translate(700,1233.3)"><circle/><text x="8" dy=".35em">Dance O-Mat</text></g>
<g id="l109" class="nd lf oc" transform="translate(700,1244.7)"><circle/><text x="8" dy=".35em">Diverscity</text></g>
<g id="l110" class="nd lf oc" transform="translate(700,1256.1)"><circle/><text x="8" dy=".35em">Restless Forest</text></g>
<g id="l111" class="nd lf oc" transform="translate(700,1267.5)"><circle/><text x="8" dy=".35em">Sound garden</text></g>
<g id="l112" class="nd lf oc" transform="translate(700,1278.9)"><circle/><text x="8" dy=".35em">Renew Newcastle</text></g>
<g id="l113" class="nd lf af" transform="translate(700,1290.2)"><circle/><text x="8" dy=".35em">Parking Day</text></g>
<g id="l114" class="nd lf af" transform="translate(700,1301.6)"><circle/><text x="8" dy=".35em">Boa Mistura</text></g>
<g id="l115" class="nd lf af" transform="translate(700,1313)"><circle/><text x="8" dy=".35em">Collective light</text></g>
<g id="l116" class="nd lf af" transform="translate(700,1324.4)"><circle/><text x="8" dy=".35em">Active box</text></g>
<g id="l117" class="nd lf as" transform="translate(700,1335.8)"><circle/><text x="8" dy=".35em">Beirut Green Project</text></g>
<g id="l118" class="nd lf as" transform="translate(700,1347.2)"><circle/><text x="8" dy=".35em">Dictaphone Group</text></g>
<g id="l119" class="nd lf as" transform="translate(700,1358.6)"><circle/><text x="8" dy=".35em">Paint Up</text></g>
<g id="l120" class="nd lf as" transform="translate(700,1369.9)"><circle/><text x="8" dy=".35em">URBZ</text></g>
</g>
</svg>
